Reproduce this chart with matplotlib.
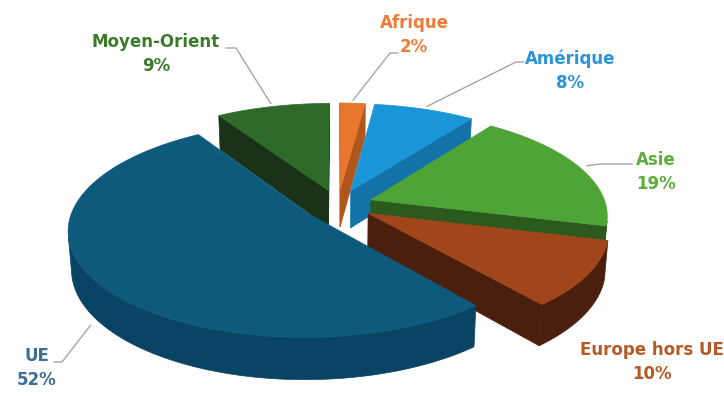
import numpy as np
import matplotlib
matplotlib.use("Agg")
import matplotlib.pyplot as plt
from matplotlib.patches import Polygon

# share of exports by destination (%), drawn clockwise from 12 o'clock
regions = ["Afrique", "Amérique", "Asie", "Europe hors UE", "UE", "Moyen-Orient"]
shares = [2, 8, 19, 10, 52, 9]

top_colors = ["#E8762D", "#1A95D5", "#4EA535", "#A0461A", "#0E5A7D", "#2E6B2A"]
side_colors = ["#B0561C", "#1372A8", "#2A5A1E", "#4A1F0E", "#0A4464", "#1A3318"]
label_colors = ["#EE7B3A", "#2A94DA", "#5AAE3B", "#B55A25", "#3E6E95", "#3B7A2B"]

# label centre, then leader elbow and end (None = no leader)
label_pos = {
    "Afrique": (414, 35, (390, 53), (398, 53)),
    "Amérique": (570, 71, (516, 62), (524, 62)),
    "Asie": (656, 172, (600, 164), (632, 164)),
    "Europe hors UE": (652, 362, None, None),
    "UE": (37, 368, (62, 362), (54, 362)),
    "Moyen-Orient": (156, 54, (236, 48), (226, 48)),
}

# 3D view
phi = np.radians(26)
D = 6.4
K = 235
cx, cy = 338, 205
thick = 0.18
explode = 0.15
cam = np.array([0.0, D * np.sin(phi), -D * np.cos(phi)])  # (x, h, z)


def proj(x, z, h):
    fwd = z * np.cos(phi) - h * np.sin(phi)
    up = z * np.sin(phi) + h * np.cos(phi)
    s = D / (D + fwd)
    return cx + K * x * s, cy - K * up * s


def facing(normal, point):
    return np.dot(normal, cam - point) > 0


fig = plt.figure(figsize=(7.24, 3.96), dpi=100)
ax = fig.add_axes([0, 0, 1, 1])
ax.set_xlim(0, 724)
ax.set_ylim(396, 0)
ax.axis("off")

slices = []
start = 90.0
for i, share in enumerate(shares):
    a_hi = start
    a_lo = start - share * 3.6
    start = a_lo
    mid = np.radians((a_hi + a_lo) / 2)
    ox, oz = explode * np.cos(mid), explode * np.sin(mid)
    cz = oz + 0.5 * np.sin(mid)
    slices.append((i, np.radians(a_hi), np.radians(a_lo), mid, ox, oz, cz))

anchors = {}
z = 2
for i, a_hi, a_lo, mid, ox, oz, cz in sorted(slices, key=lambda s: -s[6]):
    th = np.linspace(a_hi, a_lo, 200)
    walls = []
    # radial walls
    for a, sign in ((a_hi, 1), (a_lo, -1)):
        n = np.array([-np.sin(a) * sign, 0, np.cos(a) * sign])
        p = np.array([ox + 0.5 * np.cos(a), 0, oz + 0.5 * np.sin(a)])
        if facing(n, p):
            walls.append([proj(ox, oz, 0),
                          proj(ox + np.cos(a), oz + np.sin(a), 0),
                          proj(ox + np.cos(a), oz + np.sin(a), -thick),
                          proj(ox, oz, -thick)])
    # outer curved wall, only the runs turned toward the camera
    vis = np.array([facing(np.array([np.cos(t), 0, np.sin(t)]),
                           np.array([ox + np.cos(t), 0, oz + np.sin(t)])) for t in th])
    runs, cur = [], []
    for t, v in zip(th, vis):
        if v:
            cur.append(t)
        elif cur:
            runs.append(cur)
            cur = []
    if cur:
        runs.append(cur)
    for run in runs:
        upper = [proj(ox + np.cos(t), oz + np.sin(t), 0) for t in run]
        lower = [proj(ox + np.cos(t), oz + np.sin(t), -thick) for t in run[::-1]]
        walls.append(upper + lower)
    for w in walls:
        ax.add_patch(Polygon(w, closed=True, facecolor=side_colors[i],
                             edgecolor=side_colors[i], linewidth=0.5, zorder=z))
    top = [proj(ox, oz, 0)] + [proj(ox + np.cos(t), oz + np.sin(t), 0) for t in th]
    ax.add_patch(Polygon(top, closed=True, facecolor=top_colors[i],
                         edgecolor=top_colors[i], linewidth=0.5, zorder=z + 1))
    z += 2
    h = -thick if np.sin(mid) < 0 else 0
    anchors[regions[i]] = proj(ox + 1.04 * np.cos(mid), oz + 1.04 * np.sin(mid), h)

for i, name in enumerate(regions):
    lx, ly, elbow, end = label_pos[name]
    ax.text(lx, ly, f"{name}\n{shares[i]}%", ha="center", va="center",
            fontsize=12, fontweight="bold", family="DejaVu Sans",
            color=label_colors[i], linespacing=1.45, zorder=30)
    if elbow is not None:
        ax0, ay0 = anchors[name]
        ax.plot([ax0, elbow[0], end[0]], [ay0, elbow[1], end[1]],
                color="#A6A6A6", lw=1, zorder=1)

fig.savefig("out.png", dpi=100)
